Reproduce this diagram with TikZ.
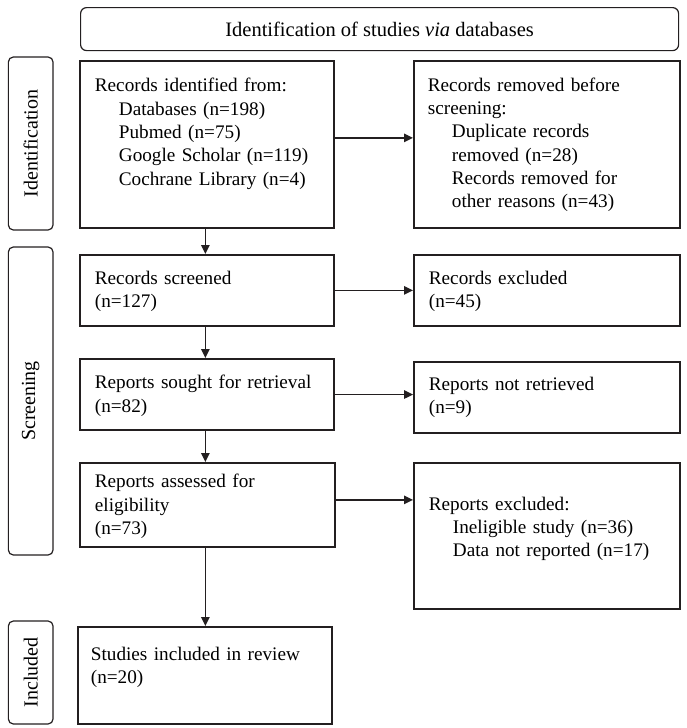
\documentclass[tikz,border=0pt]{standalone}
\usepackage{fontspec}
\setmainfont{Liberation Serif}
\usepackage{tikz}
\usetikzlibrary{arrows.meta}
\usetikzlibrary{positioning}
\definecolor{ink}{HTML}{231F20}
\tikzset{
    stage/.style={draw=ink, line width=1.2pt, rounded corners=5pt, rotate=90,
        minimum height=44.7pt, inner sep=0pt, font=\fontsize{20}{24}\selectfont},
    header/.style={draw=ink, line width=1.2pt, rounded corners=6pt, anchor=north west,
        minimum width=598pt, minimum height=43pt, inner sep=0pt, font=\fontsize{20.5}{24}\selectfont},
    flowbox/.style={draw=ink, line width=1.8pt, anchor=north west, align=left,
        inner ysep=0pt, inner xsep=15pt, text width=224pt},
    widebox/.style={flowbox, text width=236pt},
    arr/.style={draw=ink, line width=1.3pt, -{Triangle[length=9pt,width=8.5pt]}},
}
\newcommand{\ind}{\hspace*{24pt}}
\begin{document}
\begin{tikzpicture}[x=1pt, y=-1pt, font=\fontsize{19.2}{23.3}\selectfont]
	\useasboundingbox (0,0) rectangle (686,728);
	% phases
	\node[stage, minimum width=173pt] (sid) at (30.7,143.5) {Identification};
	\node[stage, minimum width=308pt] (sscr) at (30.7,401) {Screening};
	\node[stage, minimum width=103pt] (sinc) at (30.7,672.5) {Included};
	\node[header] (head) at (80,7) {Identification of studies \textit{via} databases};
	% left column
	\node[flowbox, text height=31pt, text depth=136pt] (rid) at (79,60)
		{Records identified from:\\ \ind Databases (n=198)\\ \ind Pubmed (n=75)\\
		\ind Google Scholar (n=119)\\ \ind Cochrane Library (n=4)};
	\node[flowbox, text height=29.6pt, text depth=41.4pt] (scr) at (79,254)
		{Records screened\\ (n=127)};
	\node[flowbox, text height=29.9pt, text depth=41.4pt] (sou) at (79,358)
		{Reports sought for retrieval\\ (n=82)};
	\node[flowbox, text width=225pt, text height=25pt, text depth=59pt] (ass) at (79,462)
		{Reports assessed for\\ eligibility\\ (n=73)};
	\node[flowbox, inner xsep=13pt, text width=228pt, text height=33.3pt, text depth=63.7pt] (inc) at (77,626)
		{Studies included in review\\ (n=20)};
	% right column
	\node[widebox, inner xsep=14pt, text width=238pt, text height=30.3pt, text depth=136.7pt] (rem) at (413,60)
		{Records removed before\\ screening:\\ \ind Duplicate records\\ \ind removed (n=28)\\
		\ind Records removed for\\ \ind other reasons (n=43)};
	\node[widebox, text height=29.6pt, text depth=41.4pt] (exc) at (413,254)
		{Records excluded\\ (n=45)};
	\node[widebox, text height=28.3pt, text depth=42.7pt] (ret) at (413,361)
		{Reports not retrieved\\ (n=9)};
	\node[widebox, text height=47.3pt, text depth=98.7pt] (rex) at (413,462)
		{Reports excluded:\\ \ind Ineligible study (n=36)\\ \ind Data not reported (n=17)};
	% arrows
	\coordinate (v1) at ([xshift=-1.5pt]rid.south);
	\draw[arr] (v1) -- (v1 |- scr.north);
	\draw[arr] (v1 |- scr.south) -- (v1 |- sou.north);
	\draw[arr] (v1 |- sou.south) -- (v1 |- ass.north);
	\draw[arr] (v1 |- ass.south) -- (v1 |- inc.north);
	\coordinate (a1) at ([yshift=6.5pt]rid.east);
	\coordinate (a4) at ([yshift=5pt]ass.east);
	\draw[arr] (a1) -- (a1 -| rem.west);
	\draw[arr] (scr.east) -- (scr.east -| exc.west);
	\draw[arr] (sou.east) -- (sou.east -| ret.west);
	\draw[arr] (a4) -- (a4 -| rex.west);
\end{tikzpicture}
\end{document}
